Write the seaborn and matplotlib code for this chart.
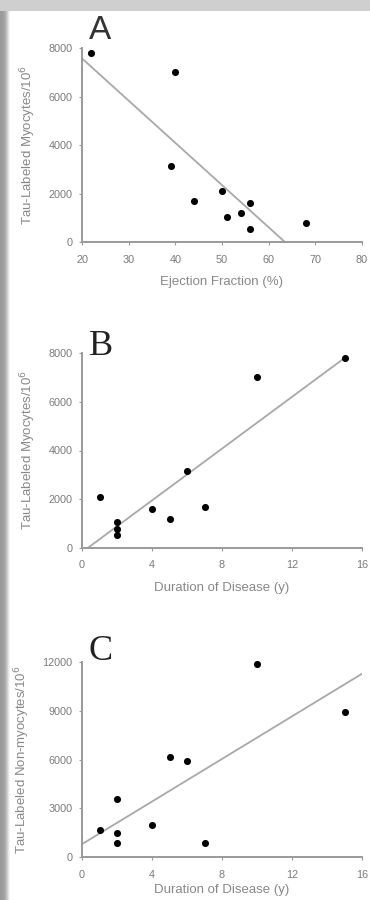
import numpy as np
import pandas as pd
import matplotlib
matplotlib.use("Agg")
import matplotlib.pyplot as plt
import seaborn as sns
from matplotlib.patches import Rectangle

# ---- data ----
ejection_fraction = [22, 40, 39, 44, 50, 51, 54, 56, 56, 68]
myocytes = [7800, 7000, 3150, 1700, 2100, 1050, 1200, 1600, 550, 800]
duration = [15, 10, 6, 7, 1, 2, 5, 4, 2, 2]

duration_c = [1, 2, 2, 2, 4, 5, 6, 7, 10, 15]
non_myocytes = [1650, 3600, 1450, 850, 2000, 6150, 5900, 850, 11900, 8950]

xticks_a = [20, 30, 40, 50, 60, 70, 80]
xticks_bc = [0, 4, 8, 12, 16]
yticks_ab = [0, 2000, 4000, 6000, 8000]
yticks_c = [0, 3000, 6000, 9000, 12000]

df_a = pd.DataFrame({"ef": ejection_fraction, "myo": myocytes})
df_b = pd.DataFrame({"dur": duration, "myo": myocytes})
df_c = pd.DataFrame({"dur": duration_c, "non": non_myocytes})

sns.set_theme(style="white")
plt.rcParams["font.family"] = ["Liberation Sans", "DejaVu Sans"]

W, H = 370, 900
fig = plt.figure(figsize=(W / 100, H / 100), dpi=100)
fig.patch.set_facecolor("white")

# frame background strips
fig.patches.append(Rectangle((0, 1 - 11 / H), 1, 11 / H, transform=fig.transFigure,
                             facecolor="#cfcfcf", edgecolor="none", zorder=0))
for i, c in enumerate(["#9a9a9a", "#9a9a9a", "#9c9c9c", "#a0a0a0", "#a6a6a6",
                       "#b0b0b0", "#bebebe", "#d0d0d0", "#e4e4e4", "#f4f4f4"]):
    fig.patches.append(Rectangle((i / W, 0), 1 / W, 1 - 11 / H, transform=fig.transFigure,
                                 facecolor=c, edgecolor="none", zorder=0))

def px_axes(left, right, top, bottom):
    return fig.add_axes([left / W, 1 - bottom / H, (right - left) / W, (bottom - top) / H])

ax_a = px_axes(82, 362, 48, 242)
ax_b = px_axes(82, 362, 353, 548)
ax_c = px_axes(82, 362, 662, 857)

spine_col = "#9a9a9a"
tick_col = "#7a7a7a"
label_col = "#888888"
line_col = "#a8a8a8"

scatter_kws = dict(color="black", s=26, linewidths=0, clip_on=False, zorder=3, alpha=1)
line_kws = dict(color=line_col, lw=1.3, zorder=2)

# A
ax_a.set_xlim(20, 80)
ax_a.set_ylim(0, 8000)
sns.regplot(data=df_a, x="ef", y="myo", ax=ax_a, ci=None, truncate=False,
            scatter_kws=scatter_kws, line_kws=line_kws)
ax_a.set_xlim(20, 80)
ax_a.set_ylim(0, 8000)
ax_a.set_xticks(xticks_a)
ax_a.set_yticks(yticks_ab)
ax_a.set_xlabel("Ejection Fraction (%)")
ax_a.set_ylabel("Tau-Labeled Myocytes/10$^6$")

# B
ax_b.set_xlim(0, 15)
ax_b.set_ylim(0, 8000)
sns.regplot(data=df_b, x="dur", y="myo", ax=ax_b, ci=None, truncate=False,
            scatter_kws=scatter_kws, line_kws=line_kws)
ax_b.set_xlim(0, 16)
ax_b.set_ylim(0, 8000)
ax_b.set_xticks(xticks_bc)
ax_b.set_yticks(yticks_ab)
ax_b.set_xlabel("Duration of Disease (y)")
ax_b.set_ylabel("Tau-Labeled Myocytes/10$^6$")

# C
ax_c.set_xlim(0, 16)
ax_c.set_ylim(0, 12000)
sns.regplot(data=df_c, x="dur", y="non", ax=ax_c, ci=None, truncate=False,
            scatter_kws=scatter_kws, line_kws=line_kws)
ax_c.set_xlim(0, 16)
ax_c.set_ylim(0, 12000)
ax_c.set_xticks(xticks_bc)
ax_c.set_yticks(yticks_c)
ax_c.set_xlabel("Duration of Disease (y)")
ax_c.set_ylabel("Tau-Labeled Non-myocytes/10$^6$")

for ax in (ax_a, ax_b, ax_c):
    ax.set_facecolor("none")
    sns.despine(ax=ax)
    for s in ("left", "bottom"):
        ax.spines[s].set_color(spine_col)
        ax.spines[s].set_linewidth(1.4)
    ax.tick_params(axis="both", which="major", length=2, width=0.8, color=spine_col,
                   labelsize=7.8, labelcolor=tick_col, left=True, bottom=True)
    ax.tick_params(axis="x", pad=7)
    ax.tick_params(axis="y", pad=5)
    ax.xaxis.label.set_fontsize(9.5)
    ax.xaxis.label.set_color(label_col)
    ax.yaxis.label.set_fontsize(9.5)
    ax.yaxis.label.set_color(label_col)
    ax.xaxis.labelpad = 8
    ax.yaxis.labelpad = 7

# keep the bottom label inside the picture
ax_c.xaxis.labelpad = 3

# panel letters
fig.text(89 / W, 1 - 39 / H, "A", fontsize=24, family=["Liberation Sans"], color="#333333",
         ha="left", va="baseline")
fig.text(89 / W, 1 - 355 / H, "B", fontsize=26, family=["Liberation Serif"], color="#222222",
         ha="left", va="baseline")
fig.text(89 / W, 1 - 660 / H, "C", fontsize=26, family=["Liberation Serif"], color="#222222",
         ha="left", va="baseline")

fig.savefig("out.png", dpi=100, facecolor=fig.get_facecolor())
